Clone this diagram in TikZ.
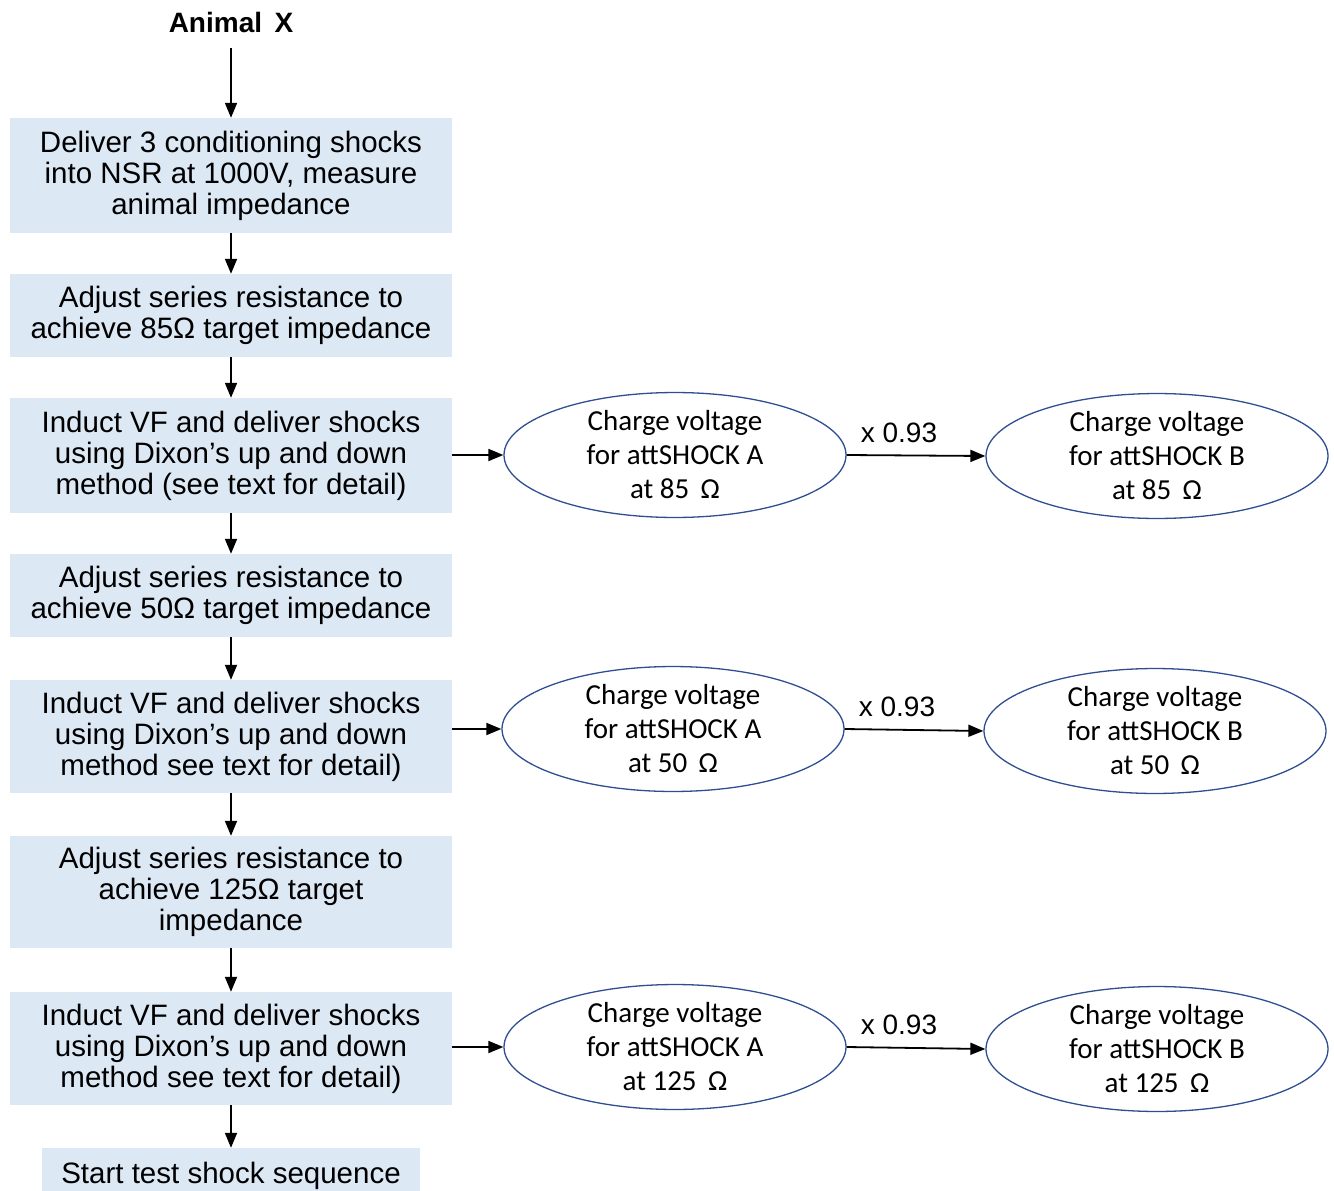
\documentclass[tikz,border=0pt]{standalone}
\usepackage{fontspec}
\setmainfont{Liberation Sans}
\newfontfamily\calib{Carlito}
\usetikzlibrary{arrows.meta,shapes.geometric}
\definecolor{boxblue}{RGB}{221,232,245}
\definecolor{ovalblue}{RGB}{47,78,145}
\begin{document}
\begin{tikzpicture}[x=1pt,y=-1pt,
 stepbox/.style={fill=boxblue, inner sep=0pt, align=center, font=\fontsize{29.5}{31}\selectfont, minimum width=442pt},
 oval/.style={ellipse, draw=ovalblue, line width=1.3pt, minimum width=342pt, minimum height=120pt, align=center, font=\calib\fontsize{29}{34}\selectfont, inner sep=0pt},
 arr/.style={-{Triangle[length=15pt,width=12pt]}, line width=1.8pt},
 lbl/.style={font=\fontsize{28}{31}\selectfont, inner sep=0pt}
]
\useasboundingbox (0,0) rectangle (1334,1191);

\node[font=\bfseries\fontsize{28}{31}\selectfont, inner sep=2pt] (ax) at (231,22) {Animal\, X};

\node[stepbox, minimum height=115pt] (b1) at (231,175.5) {Deliver 3 conditioning shocks\\into NSR at 1000V, measure\\animal impedance};
\node[stepbox, minimum height=83pt] (b2) at (231,315.5) {Adjust series resistance to\\achieve 85Ω target impedance};
\node[stepbox, minimum height=115pt] (b3) at (231,455.5) {Induct VF and deliver shocks\\using Dixon’s up and down\\method (see text for detail)};
\node[stepbox, minimum height=83pt] (b4) at (231,595.5) {Adjust series resistance to\\achieve 50Ω target impedance};
\node[stepbox, minimum height=113pt] (b5) at (231,736.5) {Induct VF and deliver shocks\\using Dixon’s up and down\\method see text for detail)};
\node[stepbox, minimum height=112pt] (b6) at (231,892) {Adjust series resistance to\\achieve 125Ω target\\impedance};
\node[stepbox, minimum height=113pt] (b7) at (231,1048.5) {Induct VF and deliver shocks\\using Dixon’s up and down\\method see text for detail)};
\node[stepbox, minimum width=378pt, minimum height=43pt, text height=27pt, text depth=0pt] (b8) at (231,1169.5) {Start test shock sequence};

\node[oval] (a1) at (675,455) {Charge voltage\\for attSHOCK A\\at 85\, Ω};
\node[oval] (c1) at (1157,456) {Charge voltage\\for attSHOCK B\\at 85\, Ω};
\node[oval] (a2) at (673,729) {Charge voltage\\for attSHOCK A\\at 50\, Ω};
\node[oval] (c2) at (1155,731) {Charge voltage\\for attSHOCK B\\at 50\, Ω};
\node[oval] (a3) at (675,1047) {Charge voltage\\for attSHOCK A\\at 125\, Ω};
\node[oval] (c3) at (1157,1049) {Charge voltage\\for attSHOCK B\\at 125\, Ω};

\draw[arr, shorten <=14pt] (ax) -- (b1);
\draw[arr] (b1) -- (b2);
\draw[arr] (b2) -- (b3);
\draw[arr] (b3) -- (b4);
\draw[arr] (b4) -- (b5);
\draw[arr] (b5) -- (b6);
\draw[arr] (b6) -- (b7);
\draw[arr] (b7) -- (b8);

\draw[arr] (a1.west -| b3.east) -- (a1.west);
\draw[arr] (a2.west -| b5.east) -- (a2.west);
\draw[arr] (a3.west -| b7.east) -- (a3.west);

\draw[arr] (a1.east) -- node[lbl, above=12pt, xshift=-17pt] {x 0.93} (c1.west);
\draw[arr] (a2.east) -- node[lbl, above=12pt, xshift=-17pt] {x 0.93} (c2.west);
\draw[arr] (a3.east) -- node[lbl, above=12pt, xshift=-17pt] {x 0.93} (c3.west);
\end{tikzpicture}
\end{document}
